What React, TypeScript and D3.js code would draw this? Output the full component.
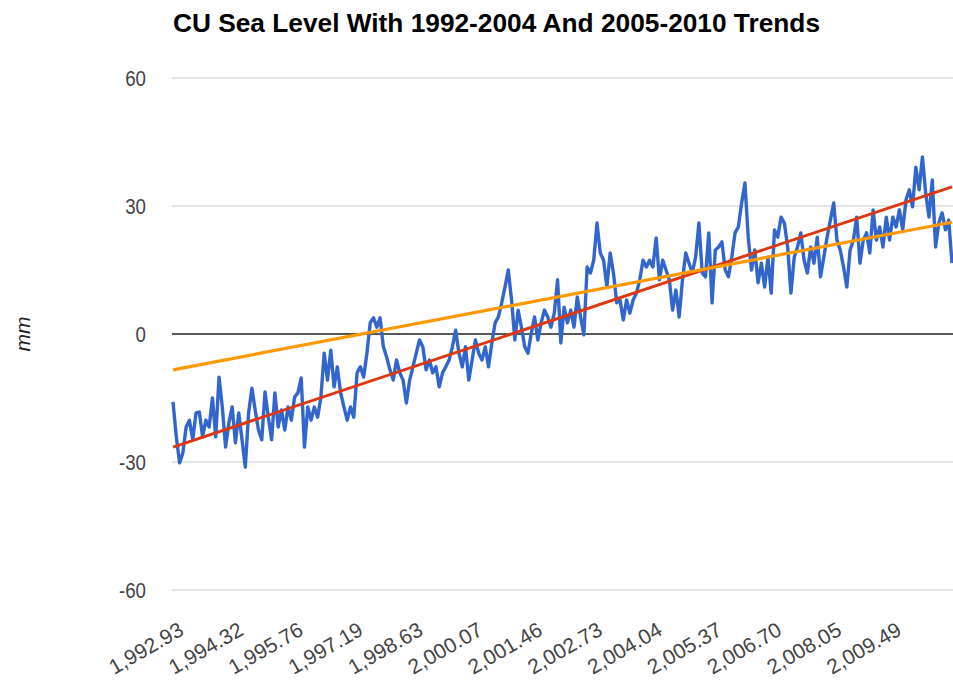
import React from 'react';
import * as d3 from 'd3';

// CU sea level (mm), evenly spaced samples
const seaLevel = [
  -15.9, -24.1, -30.2, -27.9, -21.8, -20.2, -24.8, -18.5, -18.3, -24.1,
  -20.2, -21.8, -15.0, -24.1, -10.1, -17.1, -26.5, -20.9, -17.1, -25.5,
  -18.5, -24.8, -31.2, -18.5, -12.7, -17.8, -22.5, -24.8, -13.6, -19.5,
  -24.8, -13.8, -21.8, -17.8, -22.5, -17.1, -20.2, -14.8, -13.8, -10.3,
  -26.5, -17.1, -20.2, -17.1, -19.5,
  -14.8, -4.5, -10.8, -3.8, -12.4, -7.7, -13.8, -17.1, -20.2, -17.1,
  -19.5, -9.1, -7.7, -10.1, -4.5, 2.6, 3.8, 1.6, 3.8, -3.0,
  -5.4, -8.4, -10.8, -6.1, -9.1, -10.8, -16.2, -10.8, -7.7, -4.5,
  -1.4, -3.0, -8.4, -6.1, -9.1, -7.7, -12.4, -9.1, -7.7, -6.1,
  -3.0, 0.9, -4.5, -7.7, -3.0, -10.8, -6.1, -1.4,
  -4.5, -6.1, -3.0, -7.7, -2.1, 2.6, 4.0, 7.3, 11.0, 15.0,
  8.0, -1.4, 5.6, 1.6, -3.0, -4.5, 0.2, 4.0, -1.4, 2.6,
  5.6, 4.0, 1.6, 4.9, 12.7, -2.1, 6.3, 2.6, 5.6, 1.6,
  8.7, 4.0, -0.2, 15.7, 14.3, 17.3, 26.0, 19.0, 17.3, 11.0,
  19.0, 14.3, 7.3, 8.0, 3.3, 8.0, 4.9, 8.0, 9.6,
  12.7, 17.3, 15.7, 17.3, 15.7, 22.5, 12.7, 17.3, 15.0, 12.7,
  5.6, 10.3, 4.0, 12.7, 19.0, 16.6, 14.3, 18.0, 26.0, 14.3,
  13.4, 23.7, 7.3, 19.7, 20.4, 21.6, 15.0, 13.4, 18.0, 23.7,
  25.1, 30.7, 35.4, 22.7, 15.0, 19.7, 12.0, 16.6, 11.0, 18.0,
  9.6, 24.4, 22.7, 27.4, 26.0, 20.4, 9.6, 18.0, 20.4,
  23.7, 17.3, 14.3, 20.4, 16.6, 22.7, 13.4, 18.0, 22.7, 26.7,
  30.7, 22.0, 19.7, 15.7, 11.0, 19.7, 22.0, 27.4, 16.6, 22.0,
  23.7, 19.0, 29.1, 22.0, 25.1, 20.4, 27.4, 22.0, 27.4, 25.1,
  29.1, 24.4, 31.4, 33.8, 29.8, 39.1, 33.8, 41.5, 33.0, 27.4,
  36.1, 20.4, 26.0, 28.4, 24.4, 26.7, 16.6,
];

// trend lines, value at first and last sample
const trend1992 = [-8.4, 26.2];
const trend2005 = [-26.5, 34.5];

const yTicks = [60, 30, 0, -30, -60];
const xTickLabels = [
  '1,992.93', '1,994.32', '1,995.76', '1,997.19', '1,998.63', '2,000.07', '2,001.46',
  '2,002.73', '2,004.04', '2,005.37', '2,006.70', '2,008.05', '2,009.49',
];

const W = 953;
const H = 682;
const labelEvery = 18.2;
const font = 'Liberation Sans, Arial, sans-serif';

const App: React.FC = () => {
  const n = seaLevel.length;
  const x = d3.scaleLinear().domain([0, n - 1]).range([173, 952]);
  const y = d3.scaleLinear().domain([-60, 60]).range([590, 78]);

  const line = d3.line<number>()
    .x((_, i) => x(i))
    .y(d => y(d));

  const trendLine = (t: number[]) =>
    d3.line<number>().x((_, i) => x(i * (n - 1))).y(d => y(d))(t) || '';

  return (
    <div style={{ position: 'absolute', left: 0, top: 0 }}>
      <svg width={W} height={H} style={{ display: 'block', background: '#fff' }}>
        <text x={173} y={32} textLength={647} lengthAdjust="spacingAndGlyphs"
          style={{ fontFamily: font, fontSize: 25, fontWeight: 700, fill: '#000' }}>
          CU Sea Level With 1992-2004 And 2005-2010 Trends
        </text>

        {yTicks.map(t => (
          <g key={t}>
            <line x1={172} x2={W} y1={y(t)} y2={y(t)}
              stroke={t === 0 ? '#222' : '#cccccc'} strokeWidth={t === 0 ? 1.5 : 1.2} />
            <text transform={`translate(146,${y(t)}) scale(0.85,1)`} dy="0.36em" textAnchor="end"
              style={{ fontFamily: font, fontSize: 22, fill: '#444' }}>
              {t}
            </text>
          </g>
        ))}

        <text transform={`translate(30,${y(0)}) rotate(-90)`} textAnchor="middle"
          style={{ fontFamily: font, fontSize: 21, fontStyle: 'italic', fill: '#222' }}>
          mm
        </text>

        {xTickLabels.map((lab, k) => {
          const tx = x(k * labelEvery) + 12;
          return (
            <text key={lab} transform={`translate(${tx},634) rotate(-30)`} textAnchor="end"
              style={{ fontFamily: font, fontSize: 21, fill: '#444' }}>
              {lab}
            </text>
          );
        })}

        <path d={line(seaLevel) || ''} fill="none" stroke="#3366cc" strokeWidth={3.4} strokeLinejoin="round" />
        <path d={trendLine(trend2005)} fill="none" stroke="#dc3912" strokeWidth={3} />
        <path d={trendLine(trend1992)} fill="none" stroke="#ff9900" strokeWidth={3.2} />
      </svg>
    </div>
  );
};

export default App;
